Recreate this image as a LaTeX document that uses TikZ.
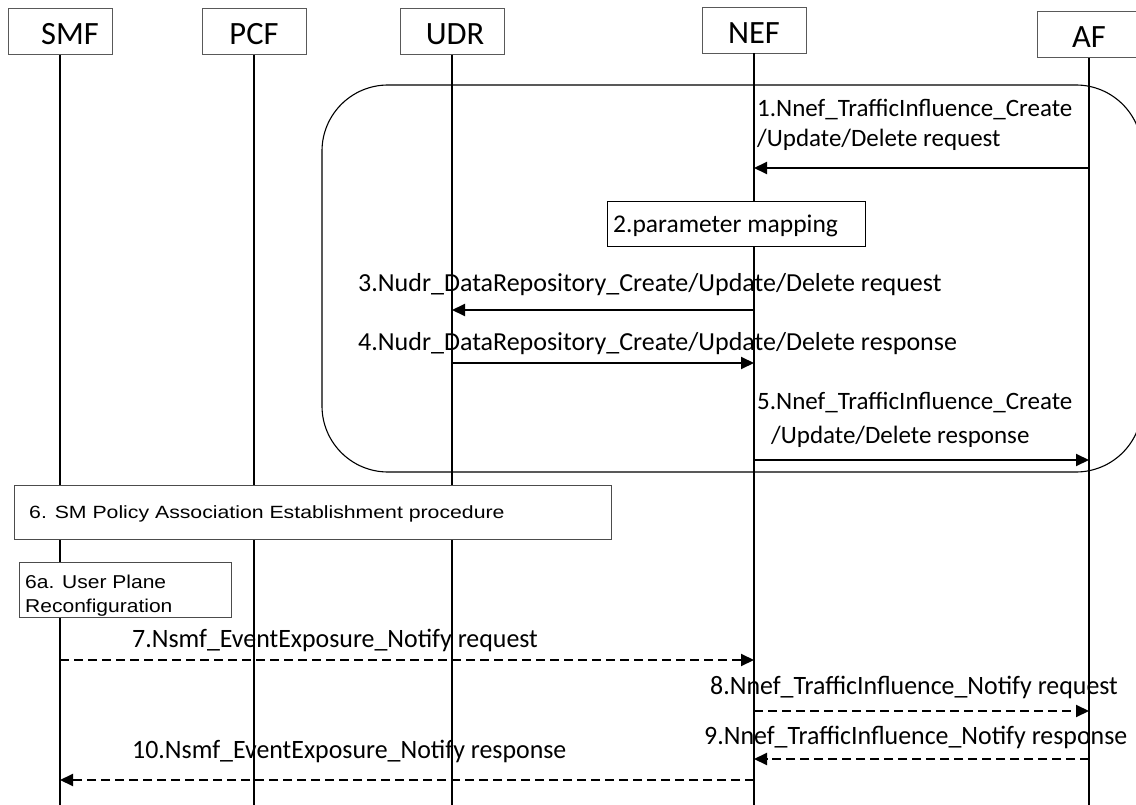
\documentclass[tikz,border=0pt]{standalone}
\usepackage{fontspec}
\usepackage{graphicx}
\setmainfont{Carlito}
\newfontfamily\arialf{Liberation Sans}
\usetikzlibrary{arrows.meta}
\newcommand\cnd[1]{\scalebox{0.976}[1]{#1}}
\newcommand\wde[2]{\scalebox{#1}[1]{#2}}
\begin{document}
\begin{tikzpicture}[x=1pt,y=-1pt,
  head/.style={draw=black!65, line width=0.9pt, fill=white, minimum width=104pt, minimum height=46pt, inner sep=0pt, text height=27pt, text depth=0pt, font=\fontsize{32.5}{33}\selectfont},
  life/.style={line width=1.1pt},
  msg/.style={line width=2pt, -{Triangle[length=13pt,width=12pt]}},
  dmsg/.style={msg, dash pattern=on 9pt off 5pt},
  lbl/.style={anchor=base west, inner sep=0pt, font=\fontsize{25}{30}\selectfont},
  blbl/.style={anchor=base west, inner sep=0pt, font=\fontsize{26}{30}\selectfont},
  clbl/.style={anchor=base west, inner sep=0pt, font=\fontsize{26.5}{30}\selectfont},
  albl/.style={anchor=base west, inner sep=0pt},
  procbox/.style={draw, fill=white, line width=1pt},
]
\useasboundingbox (0,0) rectangle (1136,805);
\coordinate (bot) at (0,805);
% group frame
\draw[line width=1.1pt, rounded corners=66pt] (322,85) rectangle (1142,472);
% heads
\node[head] (smf) at (60,31.5) {\hspace{20pt}SMF};
\node[head] (pcf) at (254,31.5) {PCF\hspace{20pt}};
\node[head] (udr) at (452,31.5) {\hspace{6pt}UDR};
\node[head] (nef) at (754,30) {NEF};
\node[head] (af) at (1089,34.5) {AF\hspace{12pt}};
% lifelines
\foreach \n in {smf,pcf,udr,nef,af}
  \draw[life] (\n.south) -- (\n.south |- bot);
% message y levels
\coordinate (y1) at (0,168);
\coordinate (y3) at (0,310);
\coordinate (y4) at (0,363);
\coordinate (y5) at (0,460);
\coordinate (y7) at (0,660);
\coordinate (y8) at (0,711);
\coordinate (y9) at (0,759);
\coordinate (y10) at (0,780);
% 1
\node[lbl] (l1a) at (757,117) {1.Nnef\_TrafficInfluence\_Create};
\node[lbl] (l1b) at (757,147) {/Update/Delete request};
\draw[msg] (af |- y1) -- (nef |- y1);
% 2
\node[procbox, minimum width=258pt, minimum height=45pt, inner sep=0pt] (pm) at (736,224.5) {};
\node[albl, font=\fontsize{25.5}{30}\selectfont] (pmt) at (613,233) {2.parameter mapping};
% 3
\node[blbl] (l3) at (358,292) {3.Nudr\_DataRepository\_Create/Update/Delete request};
\draw[msg] (nef |- y3) -- (udr |- y3);
% 4
\node[blbl] (l4) at (358,350) {4.Nudr\_DataRepository\_Create/Update/Delete response};
\draw[msg] (udr |- y4) -- (nef |- y4);
% 5
\node[lbl] (l5a) at (757,409) {5.Nnef\_TrafficInfluence\_Create};
\node[lbl] (l5b) at (771,443) {/Update/Delete response};
\draw[msg] (nef |- y5) -- (af |- y5);
% 6
\node[procbox, draw=black!70, minimum width=597pt, minimum height=54pt, inner sep=0pt] (p6) at (312.5,512) {};
\node[albl, font=\arialf\fontsize{17.7}{22}\selectfont] (p6t) at (29,518) {\wde{1.2}{6. SM Policy Association Establishment procedure}};
% 6a
\node[procbox, draw=black!70, minimum width=212pt, minimum height=55pt, inner sep=0pt] (p6a) at (125,589.5) {};
\node[albl, font=\arialf\fontsize{18.6}{22}\selectfont] (p6at1) at (25,588) {\wde{1.13}{6a. User Plane}};
\node[albl, font=\arialf\fontsize{18.6}{22}\selectfont] (p6at2) at (25,612) {\wde{1.13}{Reconfiguration}};
% 7
\node[clbl] (l7) at (132,647) {\cnd{7.Nsmf\_EventExposure\_Notify request}};
\draw[dmsg] (smf |- y7) -- (nef |- y7);
% 8
\node[clbl] (l8) at (710,694) {\cnd{8.Nnef\_TrafficInfluence\_Notify request}};
\draw[dmsg] (nef |- y8) -- (af |- y8);
% 9
\node[clbl] (l9) at (704,744) {\cnd{9.Nnef\_TrafficInfluence\_Notify response}};
\draw[dmsg] (af |- y9) -- (nef |- y9);
% 10
\node[clbl] (l10) at (132,758) {\cnd{10.Nsmf\_EventExposure\_Notify response}};
\draw[dmsg] (nef |- y10) -- (smf |- y10);
\end{tikzpicture}
\end{document}
